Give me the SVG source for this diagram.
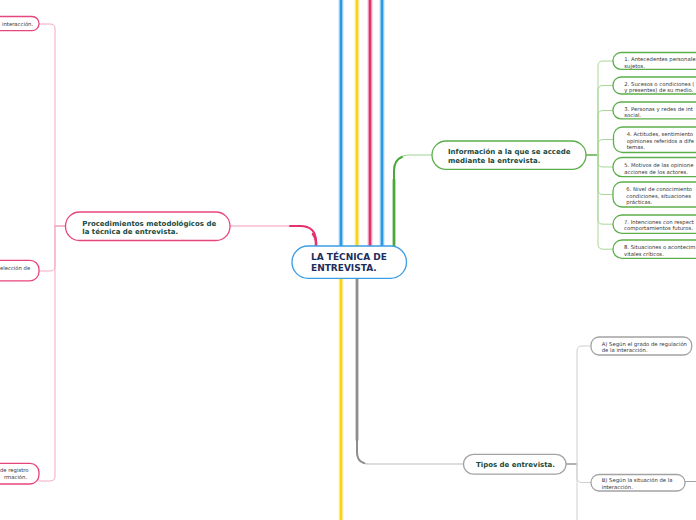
<svg xmlns="http://www.w3.org/2000/svg" width="696" height="520" viewBox="0 0 696 520">
<style>
.n{fill:#fff;stroke-width:1.3}
.pk{stroke:#e8457c}
.gr{stroke:#5cae4a}
.gy{stroke:#a3a3a3}
.bl{stroke:#3b9de3}
.t1{font-family:"DejaVu Sans",Verdana,sans-serif;font-weight:bold;font-size:7px;fill:#1c4a3c}
.t0{font-family:"DejaVu Sans",Verdana,sans-serif;font-weight:bold;font-size:9px;fill:#1d2e5c}
.t2{font-family:"DejaVu Sans",Verdana,sans-serif;font-size:5.3px;fill:#333}
.c{fill:none;stroke-linecap:round}
</style>
<rect width="696" height="520" fill="#fff"/>
<g id="connectors">
  <!-- halos -->
  <g class="c" stroke-width="5" opacity="0.3">
    <path d="M341,0 V246" stroke="#2b9ae6"/>
    <path d="M357,0 V246" stroke="#f7d31c"/>
    <path d="M370,0 V246" stroke="#e2336b"/>
    <path d="M382,0 V246" stroke="#2b9ae6"/>
    <path d="M341,278 V520" stroke="#f7d31c"/>
  </g>
  <g class="c" stroke-width="2.6">
    <path d="M341,0 V246" stroke="#2b9ae6"/>
    <path d="M357,0 V246" stroke="#f7d31c"/>
    <path d="M370,0 V246" stroke="#e2336b"/>
    <path d="M382,0 V246" stroke="#2b9ae6"/>
    <path d="M341,278 V520" stroke="#f7d31c"/>
  </g>
  <!-- pink to Procedimientos -->
  <path class="c" d="M230,226 H300 Q316,226 316,242 V247" stroke="#f29bbb" stroke-width="1.2"/>
  <path class="c" d="M290,226 H300 Q316,226 316,242 V247" stroke="#e2336b" stroke-width="1.8"/>
  <path class="c" d="M313,234 Q316,238 316,242 V247" stroke="#e2336b" stroke-width="2.6"/>
  <!-- green to Información -->
  <path class="c" d="M394,247 V171 Q394,155 410,155 H432" stroke="#9fd28f" stroke-width="1.2"/>
  <path class="c" d="M394,247 V171 Q394,160 402,157" stroke="#4aa83b" stroke-width="2"/>
  <path class="c" d="M394,247 V180" stroke="#4aa83b" stroke-width="2.8"/>
  <!-- gray to Tipos -->
  <path class="c" d="M357,278 V452 Q357,464 369,464 H463" stroke="#bcbcbc" stroke-width="1.2"/>
  <path class="c" d="M357,278 V452 Q357,461 364,463" stroke="#8e8e8e" stroke-width="2"/>
  <path class="c" d="M357,278 V440" stroke="#8e8e8e" stroke-width="2.8"/>
  <!-- left children -->
  <path class="c" d="M66,226 H55" stroke="#ec6f98" stroke-width="1.2"/>
  <g class="c" stroke="#f5a9c5" stroke-width="1">
    <path d="M55,226 V29 Q55,24 50,24 H39"/>
    <path d="M55,226 V266 Q55,271 50,271 H39"/>
    <path d="M55,226 V476 Q55,481 50,481 H39"/>
  </g>
  <!-- info children -->
  <path class="c" d="M586,155 H598" stroke="#5cae4a" stroke-width="1.3"/>
  <g class="c" stroke="#a9d79a" stroke-width="1">
    <path d="M598,155 V66 Q598,61 603,61 H613"/>
    <path d="M598,155 V90.5 Q598,85.5 603,85.5 H613"/>
    <path d="M598,155 V115.5 Q598,110.5 603,110.5 H613"/>
    <path d="M598,155 V144.5 Q598,139.5 603,139.5 H613"/>
    <path d="M598,155 V162 Q598,167 603,167 H613"/>
    <path d="M598,155 V189.5 Q598,194.5 603,194.5 H613"/>
    <path d="M598,155 V219.2 Q598,224.2 603,224.2 H613"/>
    <path d="M598,155 V244.2 Q598,249.2 603,249.2 H613"/>
  </g>
  <!-- tipos children -->
  <path class="c" d="M566,464 H577" stroke="#9a9a9a" stroke-width="1.3"/>
  <g class="c" stroke="#cfcfcf" stroke-width="1">
    <path d="M577,464 V351 Q577,346 582,346 H591"/>
    <path d="M577,464 V477.5 Q577,482.5 582,482.5 H591"/>
    <path d="M577,464 V520"/>
  </g>
  <path class="c" d="M685,481.5 H697" stroke="#a3a3a3" stroke-width="1"/>
</g>
<g id="center">
  <rect class="n bl" x="292" y="246" width="114.5" height="32.3" rx="16"/>
  <text class="t0" x="311" y="259.5">LA TÉCNICA DE</text>
  <text class="t0" x="311" y="270.5">ENTREVISTA.</text>
</g>
<g id="procedimientos">
  <rect class="n pk" x="65.5" y="212" width="164.5" height="28.5" rx="14"/>
  <text class="t1" x="82.3" y="225.5">Procedimientos metodológicos de</text>
  <text class="t1" x="82.3" y="234.3">la técnica de entrevista.</text>
</g>
<g id="left1">
  <rect class="n pk" x="-30" y="16.5" width="69" height="14.2" rx="7"/>
  <text class="t2" x="2" y="25.8">interacción.</text>
</g>
<g id="left2">
  <rect class="n pk" x="-40" y="260.3" width="79" height="20.5" rx="9"/>
  <text class="t2" x="0" y="270.2">elección de</text>
</g>
<g id="left3">
  <rect class="n pk" x="-40" y="463.3" width="79" height="20.7" rx="9"/>
  <text class="t2" x="0" y="472.2">de registro</text>
  <text class="t2" x="4" y="479.2">rmación.</text>
</g>
<g id="informacion">
  <rect class="n gr" x="432" y="141" width="154" height="28.3" rx="14"/>
  <text class="t1" x="448" y="154.3">Información a la que se accede</text>
  <text class="t1" x="448" y="162.8">mediante la entrevista.</text>
</g>
<g id="i1">
  <rect class="n gr" x="613" y="52.5" width="110" height="16.8" rx="8"/>
  <text class="t2" x="624.3" y="61.3">1. Antecedentes personales</text>
  <text class="t2" x="624.3" y="67.5">sujetos.</text>
</g>
<g id="i2">
  <rect class="n gr" x="613" y="77" width="110" height="17" rx="8"/>
  <text class="t2" x="624.3" y="85.5">2. Sucesos o condiciones (</text>
  <text class="t2" x="624.3" y="91.7">y presentes) de su medio.</text>
</g>
<g id="i3">
  <rect class="n gr" x="613" y="102" width="110" height="16.8" rx="8"/>
  <text class="t2" x="624.3" y="110.5">3. Personas y redes de int</text>
  <text class="t2" x="624.3" y="116.7">social.</text>
</g>
<g id="i4">
  <rect class="n gr" x="613.5" y="127" width="110" height="25.5" rx="9"/>
  <text class="t2" x="626.7" y="136.3">4. Actitudes, sentimiento</text>
  <text class="t2" x="626.7" y="142.6">opiniones referidos a dife</text>
  <text class="t2" x="626.7" y="148.9">temas.</text>
</g>
<g id="i5">
  <rect class="n gr" x="613" y="157.5" width="110" height="19.2" rx="9"/>
  <text class="t2" x="624.3" y="166.8">5. Motivos de las opinione</text>
  <text class="t2" x="624.3" y="173.8">acciones de los actores.</text>
</g>
<g id="i6">
  <rect class="n gr" x="613" y="182" width="110" height="25" rx="9"/>
  <text class="t2" x="626.3" y="191.2">6. Nivel de conocimiento</text>
  <text class="t2" x="626.3" y="197.7">condiciones, situaciones</text>
  <text class="t2" x="626.3" y="204.2">prácticas.</text>
</g>
<g id="i7">
  <rect class="n gr" x="613" y="215" width="110" height="18.4" rx="9"/>
  <text class="t2" x="624" y="223.5">7. Intenciones con respect</text>
  <text class="t2" x="624" y="230">comportamientos futuros.</text>
</g>
<g id="i8">
  <rect class="n gr" x="613" y="240" width="110" height="18.4" rx="9"/>
  <text class="t2" x="624" y="249.3">8. Situaciones o acontecim</text>
  <text class="t2" x="624" y="255.5">vitales críticos.</text>
</g>
<g id="tipos">
  <rect class="n gy" x="463.5" y="454.3" width="102.5" height="19.8" rx="10"/>
  <text class="t1" x="476" y="466.8">Tipos de entrevista.</text>
</g>
<g id="tA">
  <rect class="n gy" x="591" y="337" width="100.7" height="18" rx="8"/>
  <text class="t2" x="601.7" y="345.8">A) Según el grado de regulación</text>
  <text class="t2" x="601.7" y="352.2">de la interacción.</text>
</g>
<g id="tB">
  <rect class="n gy" x="591" y="474.5" width="94" height="16.5" rx="8"/>
  <text class="t2" x="601.7" y="482.3">B) Según la situación de la</text>
  <text class="t2" x="601.7" y="488.5">interacción.</text>
</g>
</svg>
